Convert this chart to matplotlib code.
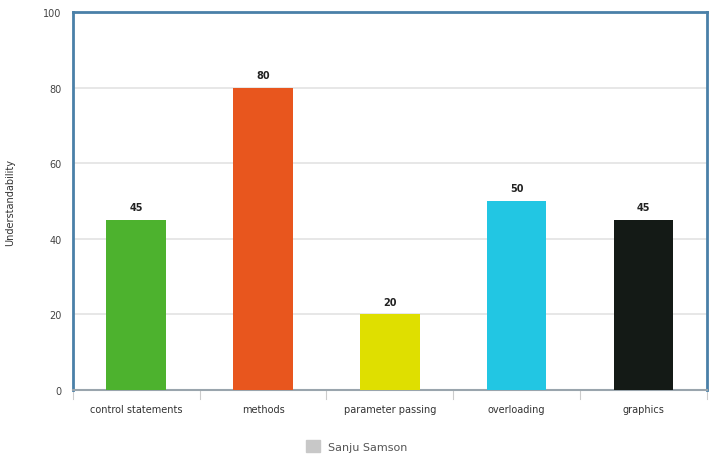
import matplotlib.pyplot as plt
import numpy as np
from matplotlib.patches import Patch

categories = ['control statements', 'methods', 'parameter passing', 'overloading', 'graphics']
values = [45, 80, 20, 50, 45]
bar_colors = ['#4db22e', '#e8561e', '#dfdf00', '#22c6e3', '#141a16']

fig = plt.figure(figsize=(7.14, 4.56), dpi=100)
ax = fig.add_axes([0.102, 0.1425, 0.888, 0.829])

x = np.arange(len(categories))
ax.bar(x, values, width=0.47, color=bar_colors, zorder=3)

for xi, v in zip(x, values):
    ax.text(xi, v + 2, str(v), ha='center', va='bottom', fontsize=7, fontweight='bold', color='#222222')

ax.set_xlim(-0.5, len(categories) - 0.5)
ax.set_ylim(0, 100)
ax.set_yticks(range(0, 101, 20))
ax.tick_params(axis='y', labelsize=7, colors='#444444', length=0, pad=8)
ax.set_xticks(x)
ax.set_xticklabels(categories, fontsize=7, color='#333333')
ax.tick_params(axis='x', length=0, pad=10)
# boundary ticks below the axis
for b in np.arange(-0.5, len(categories), 1.0):
    ax.plot([b, b], [0, -2.5], color='#cccccc', lw=0.8, clip_on=False)

ax.grid(axis='y', color='#e3e3e3', lw=1.2, zorder=0)
for side in ['left', 'right', 'top']:
    ax.spines[side].set_color('#4a80a8')
    ax.spines[side].set_linewidth(2)
ax.spines['bottom'].set_color('#9aa5ad')
ax.spines['bottom'].set_linewidth(1.5)

ax.set_ylabel('Understandability', fontsize=7, color='#333333', labelpad=20)

fig.legend(handles=[Patch(color='#c8c8c8', label='Sanju Samson')], loc='center',
           bbox_to_anchor=(0.5, 0.02), frameon=False, fontsize=8, handlelength=1.2,
           handleheight=1.2, labelcolor='#555555')

plt.savefig('out.png', dpi=100)
